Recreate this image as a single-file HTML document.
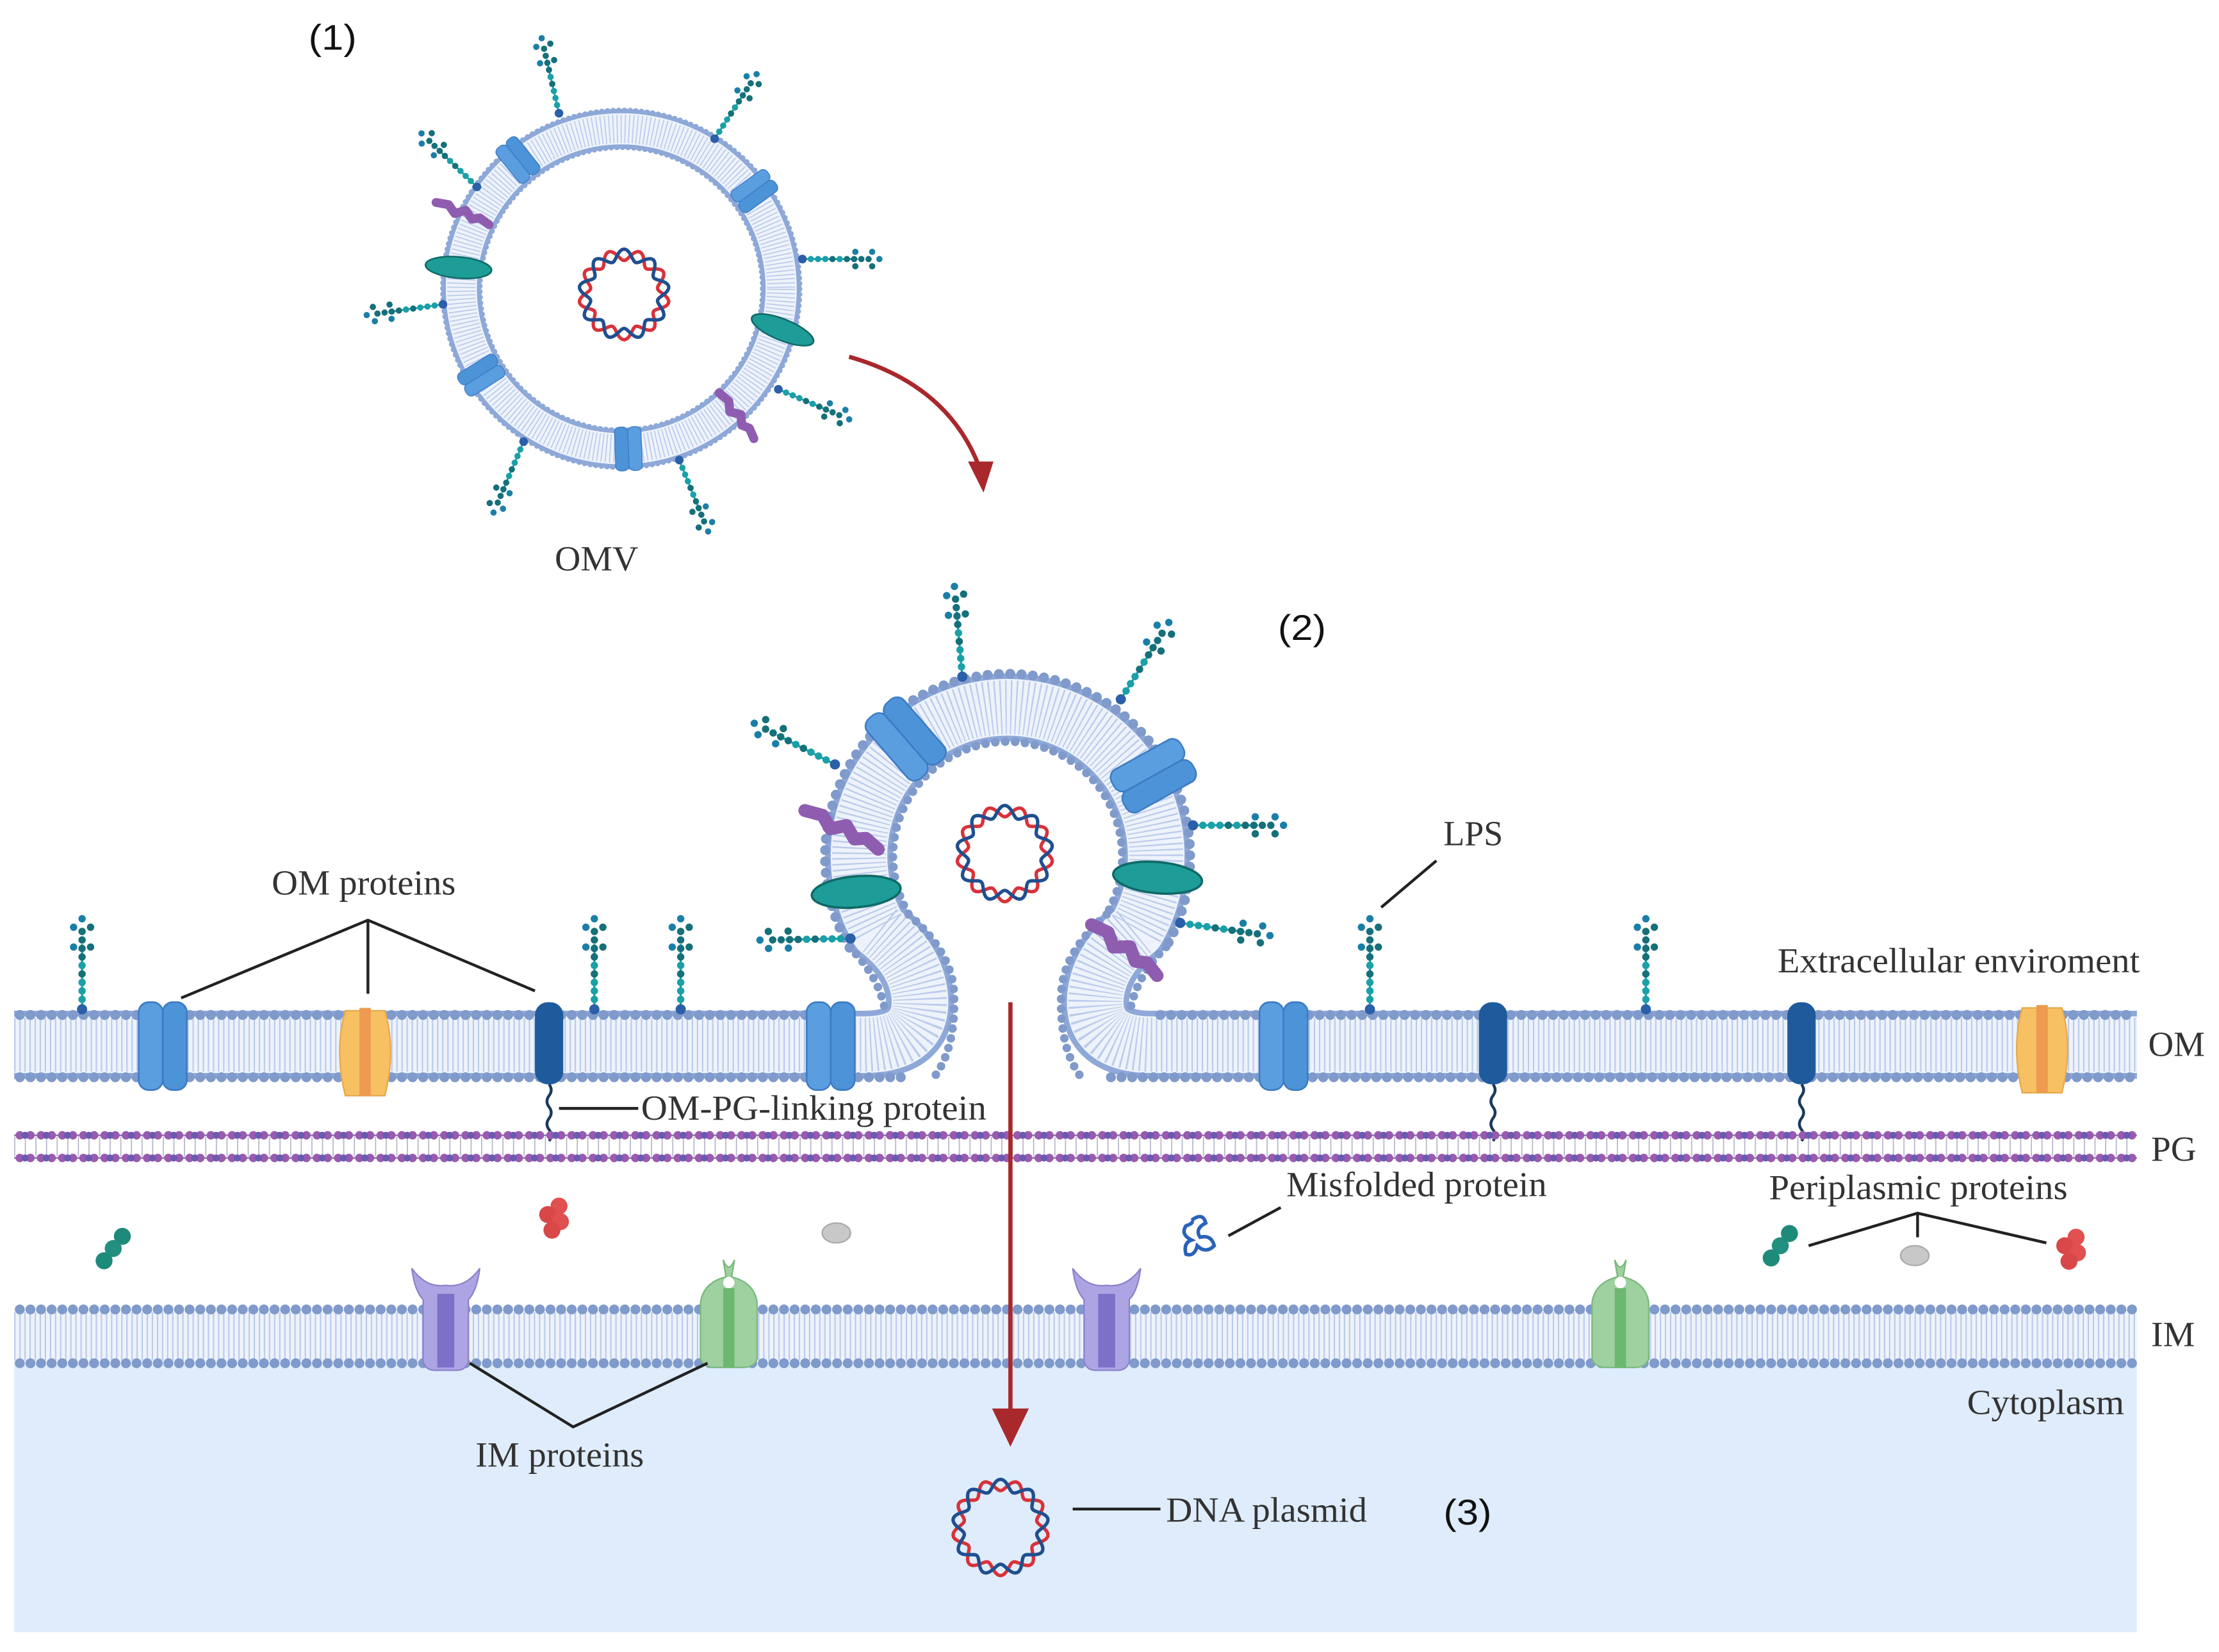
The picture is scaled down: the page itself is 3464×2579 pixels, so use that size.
<!DOCTYPE html>
<html><head><meta charset="utf-8"><style>
html,body{margin:0;padding:0;background:#fff;}
svg{display:block;}
text{font-family:"Liberation Serif",serif;fill:#333;font-size:25px;}
.s{font-family:"Liberation Sans",sans-serif;font-size:25px;fill:#111;}
</style></head><body>
<svg width="3464" height="2579" viewBox="0 0 1568 1167" preserveAspectRatio="none" xmlns="http://www.w3.org/2000/svg">
<defs>
<g id="lps">
  <line x1="0" y1="0" x2="0" y2="-46" stroke="#1aa0a8" stroke-width="1.5"/>
  <circle cx="0" cy="0" r="3.6" fill="#2b5fa8"/>
  <circle cx="0" cy="-7" r="2.6" fill="#1aa0a8"/><circle cx="0" cy="-13" r="2.6" fill="#1aa0a8"/>
  <circle cx="0" cy="-19" r="2.6" fill="#1aa0a8"/><circle cx="0" cy="-25" r="2.6" fill="#15707a"/>
  <circle cx="0" cy="-31" r="2.6" fill="#1aa0a8"/><circle cx="0" cy="-37" r="2.6" fill="#15707a"/>
  <circle cx="0" cy="-43" r="2.6" fill="#15707a"/><circle cx="0" cy="-49" r="2.6" fill="#15707a"/>
  <circle cx="-6" cy="-44" r="2.6" fill="#1a7fa8"/><circle cx="6" cy="-44" r="2.6" fill="#15707a"/>
  <circle cx="0" cy="-55" r="2.6" fill="#15707a"/><circle cx="-6" cy="-58" r="2.6" fill="#1a7fa8"/>
  <circle cx="6" cy="-58" r="2.6" fill="#15707a"/><circle cx="0" cy="-64" r="2.6" fill="#1a7fa8"/>
</g>
<g id="barrel">
  <rect x="-17" y="-31" width="17" height="62" rx="7" fill="#5b9ee0" stroke="#3d7cc4" stroke-width="1.2"/>
  <rect x="0" y="-31" width="17" height="62" rx="7" fill="#4d93d8" stroke="#3d7cc4" stroke-width="1.2"/>
</g>
<g id="orange">
  <path d="M-14,-28 Q-22,0 -14,32 L14,32 Q22,0 14,-28 Z" fill="#f7c062" stroke="#e8a84a"/>
  <rect x="-4" y="-30" width="8" height="62" fill="#ee9a50"/>
</g>
<g id="pill"><rect x="-10" y="-30" width="20" height="58" rx="9" fill="#1f5b9c"/>
  <path d="M0,28 q3,4 0,8 q-3,4 0,8 q3,4 0,8 q-3,4 0,8 q3,4 0,8" stroke="#183a5c" stroke-width="2" fill="none"/></g>
<g id="purp">
  <path d="M-24,-36 Q-22,-20 -16,-14 L-16,30 Q-14,36 -8,36 L8,36 Q14,36 16,30 L16,-14 Q22,-20 24,-36 Q14,-22 0,-24 Q-14,-22 -24,-36 Z" fill="#ada4e4" stroke="#8a80cc" stroke-width="1"/>
  <rect x="-6" y="-18" width="12" height="52" fill="#7d70c8"/></g>
<g id="green"><path d="M-4,-40 L-2,-28 Q-18,-24 -20,-10 L-20,30 Q-18,36 -10,36 L10,36 Q18,36 20,30 L20,-10 Q18,-24 2,-28 L4,-40 Q0,-30 -4,-40 Z" fill="#9fd0a0" stroke="#78b87c" stroke-width="1"/>
  <rect x="-4" y="-20" width="8" height="56" fill="#6cb870"/><circle cx="0" cy="-24" r="4" fill="#fff"/></g>
<g id="squig"><path d="M-22,-4 L-12,-4 L-6,2 L2,-2 L8,4 L14,2 L22,6" stroke="#8e5db0" stroke-width="7" fill="none" stroke-linecap="round" stroke-linejoin="round"/></g>
<g id="oval"><ellipse cx="0" cy="0" rx="30" ry="10" fill="#1e9c98" stroke="#0f6a66" stroke-width="1.5"/></g>
<g id="tealc"><circle cx="4" cy="-10" r="6" fill="#1e8a7a"/><circle cx="0" cy="0" r="6" fill="#23907f"/><circle cx="-4" cy="10" r="6" fill="#1e8a7a"/></g>
<g id="redc"><circle cx="4" cy="-8" r="6" fill="#e05050"/><circle cx="-4" cy="-2" r="6" fill="#d84848"/><circle cx="5" cy="3" r="6" fill="#e05050"/><circle cx="-1" cy="9" r="6" fill="#d84848"/></g>
</defs>

<rect x="10" y="963" width="1500" height="190" fill="#dfecfb"/>

<!-- OMV ring (1) -->
<circle cx="439" cy="204" r="113" fill="none" stroke="#8ea8d8" stroke-width="28"/>
<circle cx="439" cy="204" r="113" fill="none" stroke="#eef3fb" stroke-width="22"/>
<circle cx="439" cy="204" r="113" fill="none" stroke="#bccbec" stroke-width="20" stroke-dasharray="0.8 2"/>
<circle cx="439" cy="204" r="126" fill="none" stroke="#8ea8d8" stroke-width="4" stroke-dasharray="0 4" stroke-linecap="round"/>
<circle cx="439" cy="204" r="100" fill="none" stroke="#8ea8d8" stroke-width="4" stroke-dasharray="0 4" stroke-linecap="round"/>
<use href="#barrel" transform="translate(366,113) rotate(-39) scale(0.55,0.5)"/>
<use href="#barrel" transform="translate(533,135) rotate(54) scale(0.55,0.5)"/>
<use href="#barrel" transform="translate(340,265) rotate(-122) scale(0.55,0.5)"/>
<use href="#barrel" transform="translate(444,317) rotate(178) scale(0.55,0.5)"/>
<use href="#oval" transform="translate(324,189) rotate(5) scale(0.78,0.75)"/>
<use href="#oval" transform="translate(553,233) rotate(22) scale(0.78,0.75)"/>
<use href="#squig" transform="translate(327,150) rotate(10) scale(0.9)"/>
<use href="#squig" transform="translate(521,293) rotate(40) scale(0.9)"/>
<use href="#lps" transform="translate(395,80) rotate(-13) scale(0.85)"/>
<use href="#lps" transform="translate(505,98) rotate(33) scale(0.85)"/>
<use href="#lps" transform="translate(567,183) rotate(90) scale(0.85)"/>
<use href="#lps" transform="translate(550,275) rotate(113) scale(0.85)"/>
<use href="#lps" transform="translate(480,325) rotate(158) scale(0.85)"/>
<use href="#lps" transform="translate(370,312) rotate(-157) scale(0.85)"/>
<use href="#lps" transform="translate(313,215) rotate(-98) scale(0.85)"/>
<use href="#lps" transform="translate(337,132) rotate(-46) scale(0.85)"/>

<path d="M600,252 Q670,272 692,330" stroke="#a8282c" stroke-width="3" fill="none"/>
<polygon points="684,326 702,326 695,348" fill="#a8282c"/>

<!-- OM with bud -->
<path d="M10,738 H610 Q652,738 650,705 Q648,678 621,657 A105,105 0 1 1 803,657 Q776,678 774,705 Q772,738 814,738 H1510" fill="none" stroke="#8ea8d8" stroke-width="48" stroke-linejoin="round"/>
<path d="M10,738 H610 Q652,738 650,705 Q648,678 621,657 A105,105 0 1 1 803,657 Q776,678 774,705 Q772,738 814,738 H1510" fill="none" stroke="#eef3fb" stroke-width="40" stroke-linejoin="round"/>
<path d="M10,738 H610 Q652,738 650,705 Q648,678 621,657 A105,105 0 1 1 803,657 Q776,678 774,705 Q772,738 814,738 H1510" fill="none" stroke="#bccbec" stroke-width="38" stroke-dasharray="1 2.6"/>
<line x1="14" y1="717" x2="605" y2="717" stroke="#7f9acb" stroke-width="7" stroke-dasharray="0 7.5" stroke-linecap="round"/>
<line x1="14" y1="761" x2="640" y2="761" stroke="#7f9acb" stroke-width="7" stroke-dasharray="0 7.5" stroke-linecap="round"/>
<line x1="820" y1="717" x2="1510" y2="717" stroke="#7f9acb" stroke-width="7" stroke-dasharray="0 7.5" stroke-linecap="round"/>
<line x1="785" y1="761" x2="1510" y2="761" stroke="#7f9acb" stroke-width="7" stroke-dasharray="0 7.5" stroke-linecap="round"/>
<path d="M600.3,669.5 A129,129 0 1 1 823.7,669.5" fill="none" stroke="#7f9acb" stroke-width="7" stroke-dasharray="0 8" stroke-linecap="round"/>
<path d="M641.9,645.5 A81,81 0 1 1 782.1,645.5" fill="none" stroke="#7f9acb" stroke-width="6" stroke-dasharray="0 7" stroke-linecap="round"/>
<path d="M600,669 Q622,690 626,717" fill="none" stroke="#7f9acb" stroke-width="6" stroke-dasharray="0 7" stroke-linecap="round"/>
<path d="M642,646 Q672,672 674,700 Q676,740 660,761" fill="none" stroke="#7f9acb" stroke-width="6" stroke-dasharray="0 7" stroke-linecap="round"/>
<path d="M824,669 Q802,690 798,717" fill="none" stroke="#7f9acb" stroke-width="6" stroke-dasharray="0 7" stroke-linecap="round"/>
<path d="M782,646 Q752,672 750,700 Q748,740 764,761" fill="none" stroke="#7f9acb" stroke-width="6" stroke-dasharray="0 7" stroke-linecap="round"/>

<use href="#barrel" transform="translate(640,522) rotate(-41) scale(1,0.9)"/>
<use href="#barrel" transform="translate(815,548) rotate(61) scale(1,0.9)"/>
<use href="#oval" transform="translate(605,630) rotate(-5) scale(1.05,1.1)"/>
<use href="#oval" transform="translate(818,620) rotate(5) scale(1.05,1.1)"/>
<use href="#squig" transform="translate(595,585) rotate(15) scale(1.3)"/>
<use href="#squig" transform="translate(795,670) rotate(25) scale(1.3)"/>
<use href="#lps" transform="translate(680,478) rotate(-5)"/>
<use href="#lps" transform="translate(792,494) rotate(32)"/>
<use href="#lps" transform="translate(843,583) rotate(90)"/>
<use href="#lps" transform="translate(834,652) rotate(98)"/>
<use href="#lps" transform="translate(590,540) rotate(-63)"/>
<use href="#lps" transform="translate(601,663) rotate(-91)"/>

<use href="#barrel" transform="translate(115,739)"/>
<use href="#barrel" transform="translate(587,739)"/>
<use href="#barrel" transform="translate(907,739)"/>
<use href="#orange" transform="translate(258,742)"/>
<use href="#orange" transform="translate(1443,740)"/>
<use href="#pill" transform="translate(388,738)"/>
<use href="#pill" transform="translate(1055,738)"/>
<use href="#pill" transform="translate(1273,738)"/>
<use href="#lps" transform="translate(58,713)"/>
<use href="#lps" transform="translate(420,713)"/>
<use href="#lps" transform="translate(481,713)"/>
<use href="#lps" transform="translate(968,713)"/>
<use href="#lps" transform="translate(1163,713)"/>

<!-- PG -->
<g stroke="#7a6aa0" stroke-width="1">
<line x1="10" y1="802" x2="1510" y2="802"/><line x1="10" y1="818" x2="1510" y2="818"/>
</g>
<line x1="10" y1="810" x2="1510" y2="810" stroke="#8a88a8" stroke-width="14" stroke-dasharray="0.8 6.7" opacity="0.6"/>
<line x1="14" y1="802" x2="1510" y2="802" stroke="#9a5ab0" stroke-width="6" stroke-dasharray="0 7.5" stroke-linecap="round"/>
<line x1="17.7" y1="802" x2="1510" y2="802" stroke="#6a5ab0" stroke-width="5" stroke-dasharray="0 15" stroke-linecap="round"/>
<line x1="14" y1="818" x2="1510" y2="818" stroke="#9a5ab0" stroke-width="6" stroke-dasharray="0 7.5" stroke-linecap="round"/>
<line x1="17.7" y1="818" x2="1510" y2="818" stroke="#6a5ab0" stroke-width="5" stroke-dasharray="0 15" stroke-linecap="round"/>

<!-- IM -->
<rect x="10" y="925" width="1500" height="38" fill="#eef3fb"/>
<line x1="10" y1="944" x2="1510" y2="944" stroke="#bccbec" stroke-width="34" stroke-dasharray="1 2.6"/>
<line x1="14" y1="925" x2="1510" y2="925" stroke="#7f9acb" stroke-width="7" stroke-dasharray="0 7.5" stroke-linecap="round"/>
<line x1="14" y1="963" x2="1510" y2="963" stroke="#7f9acb" stroke-width="7" stroke-dasharray="0 7.5" stroke-linecap="round"/>
<use href="#purp" transform="translate(315,932)"/>
<use href="#purp" transform="translate(782,932)"/>
<use href="#green" transform="translate(515,930)"/>
<use href="#green" transform="translate(1145,930)"/>

<use href="#tealc" transform="translate(80,882) rotate(15)"/>
<use href="#tealc" transform="translate(1258,880) rotate(15)"/>
<use href="#redc" transform="translate(391,860)"/>
<use href="#redc" transform="translate(1463,882)"/>
<ellipse cx="591" cy="871" rx="10" ry="7" fill="#c8c8c8" stroke="#aaa"/>
<ellipse cx="1353" cy="887" rx="10" ry="7" fill="#c8c8c8" stroke="#aaa"/>
<path d="M842,862 q8,-6 10,2 q-8,4 -4,10 q8,-2 10,6 q-6,6 -12,0 q-2,8 -8,6 q-2,-8 4,-10 q-8,-4 -4,-10 q6,-2 4,-4" stroke="#2a62b8" stroke-width="2.5" fill="none"/>

<line x1="714" y1="708" x2="714" y2="998" stroke="#a8282c" stroke-width="3"/>
<polygon points="701,995 727,995 714,1022" fill="#a8282c"/>

<g stroke="#222" stroke-width="2" fill="none">
<polyline points="128,705 260,650 378,700"/><line x1="260" y1="650" x2="260" y2="702"/>
<line x1="395" y1="783" x2="451" y2="783"/>
<line x1="1015" y1="608" x2="976" y2="641"/>
<line x1="905" y1="853" x2="868" y2="873"/>
<polyline points="1278,880 1355,857 1446,878"/><line x1="1355" y1="857" x2="1355" y2="874"/>
<polyline points="332,963 405,1008 500,963"/>
<line x1="758" y1="1066" x2="820" y2="1066"/>
</g>

<g id="plas"></g>

<text class="s" x="218" y="35" textLength="34" lengthAdjust="spacingAndGlyphs">(1)</text>
<text x="392" y="403" textLength="59" lengthAdjust="spacingAndGlyphs">OMV</text>
<text class="s" x="903" y="452" textLength="34" lengthAdjust="spacingAndGlyphs">(2)</text>
<text x="1020" y="597" textLength="42" lengthAdjust="spacingAndGlyphs">LPS</text>
<text x="192" y="632" textLength="130" lengthAdjust="spacingAndGlyphs">OM proteins</text>
<text x="1256" y="687" textLength="256" lengthAdjust="spacingAndGlyphs">Extracellular enviroment</text>
<text x="1518" y="746" textLength="40" lengthAdjust="spacingAndGlyphs">OM</text>
<text x="453" y="791" textLength="244" lengthAdjust="spacingAndGlyphs">OM-PG-linking protein</text>
<text x="1520" y="820" textLength="32" lengthAdjust="spacingAndGlyphs">PG</text>
<text x="909" y="845" textLength="184" lengthAdjust="spacingAndGlyphs">Misfolded protein</text>
<text x="1250" y="847" textLength="211" lengthAdjust="spacingAndGlyphs">Periplasmic proteins</text>
<text x="1520" y="951" textLength="31" lengthAdjust="spacingAndGlyphs">IM</text>
<text x="1390" y="999" textLength="111" lengthAdjust="spacingAndGlyphs">Cytoplasm</text>
<text x="336" y="1036" textLength="119" lengthAdjust="spacingAndGlyphs">IM proteins</text>
<text x="824" y="1075" textLength="142" lengthAdjust="spacingAndGlyphs">DNA plasmid</text>
<text class="s" x="1020" y="1077" textLength="34" lengthAdjust="spacingAndGlyphs">(3)</text>
</svg>
<script>
(function(){
var g=document.getElementById('plas');var ns='http://www.w3.org/2000/svg';
function pl(cx,cy,R){
 [['#d8323a',1],['#1f4f90',-1]].forEach(function(c){
  var d='';for(var i=0;i<=180;i++){var t=i/180*2*Math.PI;var r=R+c[1]*4*Math.sin(9*t);
   d+=(i?'L':'M')+(cx+r*Math.cos(t)).toFixed(2)+','+(cy+r*Math.sin(t)).toFixed(2);}
  var p=document.createElementNS(ns,'path');p.setAttribute('d',d+'Z');p.setAttribute('fill','none');
  p.setAttribute('stroke',c[0]);p.setAttribute('stroke-width','2.4');g.appendChild(p);});
}
pl(441,208,28);pl(710,603,30);pl(707,1079,30);
})();
</script>
</body></html>
